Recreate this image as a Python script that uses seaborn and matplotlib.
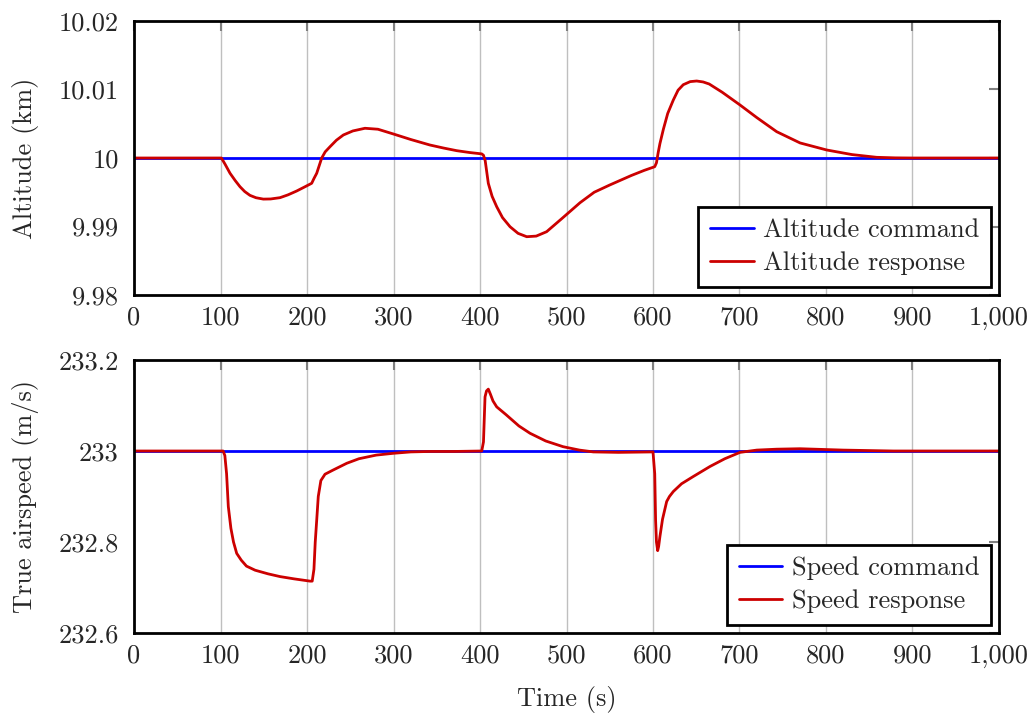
import numpy as np
import matplotlib
matplotlib.use('Agg')
import matplotlib.pyplot as plt
import seaborn as sns
import pandas as pd

# time grid (s) and responses
alt_t = [0, 101, 105, 111, 117, 122.5, 128, 134, 141, 149.5, 158, 168.8, 178, 188, 197, 205.4,
         208, 211.2, 214, 217, 221, 226.6, 234, 242, 253, 267, 282, 300, 320, 342, 358, 373,
         388, 402, 404, 406, 409.6, 414, 419.3, 426, 434.7, 444, 454, 465, 477, 495, 515.6,
         532, 550, 575, 590, 602, 604, 606, 608, 612, 617, 623.5, 629, 635, 643, 650.5, 658,
         665, 680, 700.6, 720, 743, 770, 800.8, 830, 858.6, 880, 900, 1000]
alt_resp = [10.0, 10.0, 9.99915, 9.99777, 9.99670, 9.99581, 9.99510, 9.99455, 9.99420, 9.99400,
            9.99402, 9.99421, 9.99462, 9.99518, 9.99576, 9.99631, 9.99700, 9.99777, 9.99885,
            10.0, 10.00090, 10.00165, 10.00260, 10.00336, 10.00395, 10.00434, 10.00420,
            10.00350, 10.00270, 10.00190, 10.00145, 10.00107, 10.00080, 10.00060, 10.00040,
            9.99960, 9.99630, 9.99440, 9.99289, 9.99130, 9.98997, 9.98900, 9.98851, 9.98860,
            9.98924, 9.99120, 9.99347, 9.99500, 9.99606, 9.99745, 9.99820, 9.99873, 9.99930,
            10.00080, 10.00210, 10.00420, 10.00650, 10.00847, 10.00990, 10.01070, 10.01115,
            10.01124, 10.01110, 10.01080, 10.00960, 10.00774, 10.00590, 10.00384, 10.00220,
            10.00117, 10.00050, 10.00010, 10.00002, 10.0, 10.0]

spd_t = [0, 103, 105, 107, 109, 112, 115, 118.7, 124, 130, 140, 155, 168.8, 185, 203.5, 206,
         208, 209.5, 211.2, 213, 216, 220.8, 230, 245.9, 260, 280, 300, 320, 342, 370, 402,
         404, 405.8, 407.5, 409.6, 412, 415, 419.3, 430, 445, 457.8, 476, 496, 515, 531, 560,
         600, 602, 603, 604, 605.4, 606.5, 608, 611, 615.8, 619, 623.5, 633, 646.6, 665.9,
         683, 700.6, 720, 743, 770, 820, 878, 1000]
spd_resp = [233.0, 233.0, 232.990, 232.950, 232.878, 232.830, 232.800, 232.775, 232.760, 232.747,
            232.738, 232.730, 232.724, 232.719, 232.714, 232.714, 232.740, 232.800, 232.848,
            232.900, 232.935, 232.949, 232.958, 232.973, 232.983, 232.991, 232.995, 232.998,
            232.999, 232.999, 233.0, 233.020, 233.119, 233.132, 233.136, 233.125, 233.110,
            233.097, 233.080, 233.055, 233.039, 233.022, 233.0095, 233.002, 232.998, 232.997,
            232.998, 232.950, 232.848, 232.800, 232.781, 232.790, 232.812, 232.850, 232.889,
            232.900, 232.911, 232.928, 232.944, 232.966, 232.983, 232.997, 233.002, 233.004,
            233.005, 233.002, 233.0, 233.0]

cmd_t = [0, 1000]
alt_cmd = [10.0, 10.0]
spd_cmd = [233.0, 233.0]

x_ticks = [0, 100, 200, 300, 400, 500, 600, 700, 800, 900, 1000]
x_labels = ['0', '100', '200', '300', '400', '500', '600', '700', '800', '900', '1,000']
alt_ticks = [9.98, 9.99, 10.0, 10.01, 10.02]
alt_labels = ['9.98', '9.99', '10', '10.01', '10.02']
spd_ticks = [232.6, 232.8, 233.0, 233.2]
spd_labels = ['232.6', '232.8', '233', '233.2']

sns.set_style('white')
plt.rcParams['font.family'] = 'serif'
plt.rcParams['font.serif'] = ['cmr10', 'DejaVu Serif']
plt.rcParams['axes.formatter.use_mathtext'] = True
plt.rcParams['font.size'] = 19

blue = '#0000ff'
red = '#cc0000'

fig = plt.figure(figsize=(10.35, 7.19), dpi=100)
ax1 = fig.add_axes([0.1295, 0.5897, 0.8357, 0.3811])
ax2 = fig.add_axes([0.1295, 0.1196, 0.8357, 0.3797])

panels = [
    (ax1, alt_cmd, alt_resp, alt_t, 'Altitude command', 'Altitude response',
     'Altitude (km)', alt_ticks, alt_labels, (9.98, 10.02)),
    (ax2, spd_cmd, spd_resp, spd_t, 'Speed command', 'Speed response',
     'True airspeed (m/s)', spd_ticks, spd_labels, (232.6, 233.2)),
]

for ax, cmd, resp, t, lab_c, lab_r, ylab, yt, yl, ylim in panels:
    ax.grid(False)
    for xv in x_ticks[1:-1]:
        ax.axvline(xv, color='#bfbfbf', lw=1.0, zorder=0)
    sns.lineplot(x=cmd_t, y=cmd, ax=ax, color=blue, lw=2.0, label=lab_c)
    sns.lineplot(x=t, y=resp, ax=ax, color=red, lw=2.0, label=lab_r)
    ax.set_xlim(0, 1000)
    ax.set_ylim(*ylim)
    ax.set_xticks(x_ticks)
    ax.set_xticklabels(x_labels)
    ax.set_yticks(yt)
    ax.set_yticklabels(yl)
    ax.tick_params(direction='in', length=7, width=1.5, color='#808080',
                   top=True, right=True, labelsize=19)
    ax.tick_params(axis='x', pad=8)
    ax.tick_params(axis='y', pad=11)
    for s in ax.spines.values():
        s.set_color('black')
        s.set_linewidth(2.0)
    ax.set_ylabel(ylab, fontsize=19)
    ax.set_xlabel('')
    leg = ax.legend(loc='lower right', fontsize=19, fancybox=False, framealpha=1,
                    edgecolor='black', borderpad=0.45, handlelength=1.65,
                    handletextpad=0.35, labelspacing=0.35, borderaxespad=0.3)
    leg.get_frame().set_linewidth(2.0)

ax1.yaxis.set_label_coords(-0.11, 0.5)
ax2.yaxis.set_label_coords(-0.11, 0.5)
ax2.set_xlabel('Time (s)', fontsize=19, labelpad=13)

fig.savefig('out.png', dpi=100)
